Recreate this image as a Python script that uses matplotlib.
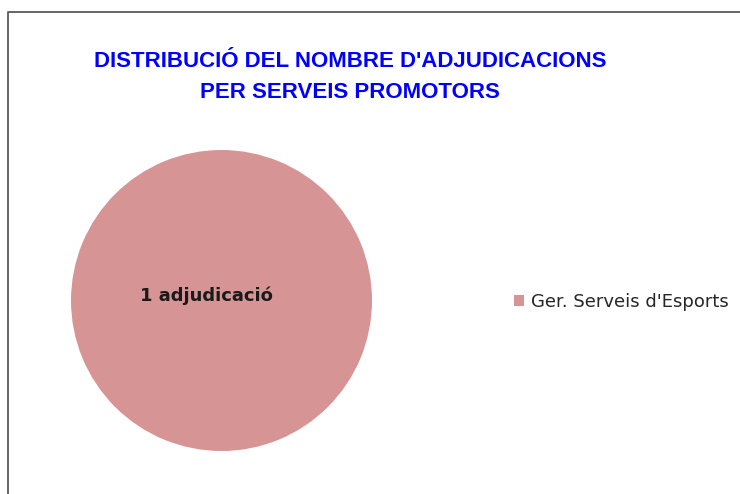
import matplotlib
matplotlib.use("Agg")
import matplotlib.pyplot as plt
from matplotlib.lines import Line2D

# chart data
categories = ["Ger. Serveis d'Esports"]
values = [1]
value_labels = ["1 adjudicació"]
colors = ["#D69594"]
title = "DISTRIBUCIÓ DEL NOMBRE D'ADJUDICACIONS\nPER SERVEIS PROMOTORS"

W, H = 740, 494
fig = plt.figure(figsize=(W / 100, H / 100), dpi=100)

# frame (only left and top edge visible in the crop)
fig.add_artist(Line2D([7.5 / W, 7.5 / W, 1.0], [0.0, 1 - 12.5 / H, 1 - 12.5 / H],
                      transform=fig.transFigure, color="#595959", lw=1.3))

ax = fig.add_axes([71 / W, (H - 451) / H, 301 / W, 301 / H])
wedges, _ = ax.pie(values, colors=colors, startangle=90, radius=1.0)
ax.set_xlim(-1, 1)
ax.set_ylim(-1, 1)
ax.set_aspect("equal")
ax.axis("off")
ax.text(-0.1, 0.03, value_labels[0], ha="center", va="center",
        fontsize=13, fontweight="bold", color="#1a1a1a")

fig.text(350 / W, 1 - 77 / H, title, ha="center", va="center", linespacing=1.6,
         fontsize=16, fontweight="bold", color="#0000FF", family="Liberation Sans")

fig.legend(wedges, categories, loc="center left", bbox_to_anchor=(514 / W, 1 - 302 / H),
           frameon=False, handlelength=0.55, handleheight=0.55,
           handletextpad=0.4, borderpad=0, borderaxespad=0, labelcolor="#262626",
           prop={"size": 13})

fig.savefig("out.png", dpi=100, facecolor="white")
